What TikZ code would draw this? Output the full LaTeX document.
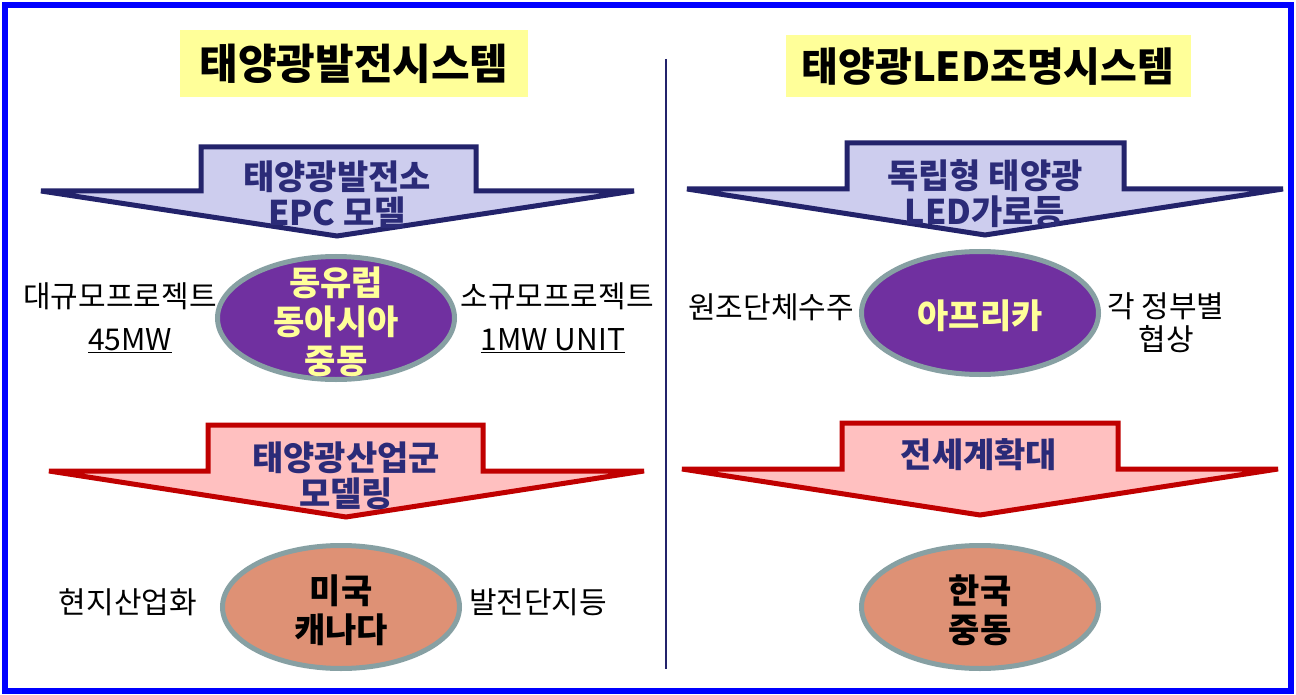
\documentclass[tikz,border=0pt]{standalone}
\usepackage{fontspec}
\setmainfont{Noto Sans CJK KR}
\usetikzlibrary{shapes.geometric}
\definecolor{frameblue}{HTML}{0000FF}
\definecolor{navy}{HTML}{23236B}
\definecolor{navytxt}{HTML}{2B2B78}
\definecolor{lav}{HTML}{CDCDEE}
\definecolor{darkred}{HTML}{C00000}
\definecolor{pink}{HTML}{FFC0C0}
\definecolor{purp}{HTML}{7030A0}
\definecolor{salmon}{HTML}{DE9175}
\definecolor{ellline}{HTML}{87A0A3}
\definecolor{ltyellow}{HTML}{FFFF99}
\begin{document}
\begin{tikzpicture}[x=1bp,y=-1bp,
  bluearrow/.style={draw=navy,line width=5bp,fill=lav,line join=miter},
  redarrow/.style={draw=darkred,line width=5bp,fill=pink,line join=miter},
  arrowtxt/.style={font=\fontsize{34bp}{36bp}\selectfont\bfseries,text=navytxt,align=center,inner sep=0},
  ellbox/.style={ellipse,draw=ellline,line width=5bp,minimum width=237bp,minimum height=123bp,inner sep=0},
  elltxt/.style={font=\fontsize{34bp}{39bp}\selectfont\bfseries,align=center,inner sep=0},
  lbl/.style={font=\fontsize{30bp}{33bp}\selectfont,text=black,align=center,inner sep=0},
  titlebox/.style={fill=ltyellow,font=\fontsize{42bp}{44bp}\selectfont\bfseries,inner sep=0}
]
\useasboundingbox (0,0) rectangle (1296,695);
\fill[white] (0,0) rectangle (1296,695);
\draw[frameblue,line width=6bp] (5,5) rectangle (1291,691);

% titles
\node[titlebox,minimum width=348bp,minimum height=67bp] (t1) at (354,63.5) {태양광발전시스템};
\node[titlebox,minimum width=405bp,minimum height=62bp,font=\fontsize{40bp}{44bp}\selectfont\bfseries] (t2) at (988,66.5) {태양광LED조명시스템};

% divider
\coordinate (d1) at (666,59);
\coordinate (d2) at (666,669);
\draw[navy,line width=2.5bp] (d1) -- (d2);

% left blue arrow
\draw[bluearrow] (201,147) -- (476,147) -- (476,191) -- (634,191) -- (337,236) -- (41,191) -- (201,191) -- cycle;
\node[arrowtxt] (a1) at (337,195) {태양광발전소\\EPC 모델};

% left red arrow
\draw[redarrow] (208,425) -- (483,425) -- (483,471) -- (644,471) -- (346,517) -- (49,471) -- (208,471) -- cycle;
\node[arrowtxt] (a2) at (346,476) {태양광산업군\\모델링};

% right blue arrow
\draw[bluearrow] (847,143) -- (1124,143) -- (1124,189) -- (1283,189) -- (985,235) -- (687,189) -- (847,189) -- cycle;
\node[arrowtxt] (a3) at (985,194) {독립형 태양광\\LED가로등};

% right red arrow
\draw[redarrow] (842,423) -- (1118,423) -- (1118,469) -- (1278,469) -- (980,515) -- (682,469) -- (842,469) -- cycle;
\node[arrowtxt] (a4) at (979,455) {전세계확대};

% ellipses
\node[ellbox,fill=purp] (e1) at (336,318) {};
\node[elltxt,text=ltyellow] (e1t) at (336,322) {동유럽\\동아시아\\중동};
\node[ellbox,fill=salmon] (e2) at (341,607) {};
\node[elltxt,text=black] (e2t) at (341,610) {미국\\캐나다};
\node[ellbox,fill=purp] (e3) at (980,313) {};
\node[elltxt,text=ltyellow] (e3t) at (980,316) {아프리카};
\node[ellbox,fill=salmon] (e4) at (980,607) {};
\node[elltxt,text=black] (e4t) at (980,610) {한국\\중동};

% side labels
\node[lbl] (l1) at (120,296) {대규모프로젝트};
\node[lbl] (l2) at (130,341) {\underline{45MW}};
\node[lbl] (l3) at (557,296) {소규모프로젝트};
\node[lbl] (l4) at (553,341) {\underline{1MW UNIT}};
\node[lbl] (l5) at (771,307) {원조단체수주};
\node[lbl] (l6) at (1166,323) {각 정부별\\협상};
\node[lbl] (l7) at (128,602) {현지산업화};
\node[lbl] (l8) at (538,602) {발전단지등};
\end{tikzpicture}
\end{document}
